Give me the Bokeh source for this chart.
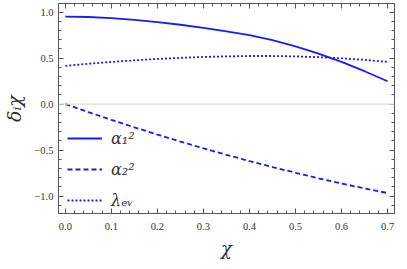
from bokeh.plotting import figure
from bokeh.models import (Range1d, LinearAxis, SingleIntervalTicker, CustomJSTickFormatter,
                          Legend, LegendItem, Span)
from bokeh.embed import file_html
from bokeh.resources import INLINE

chi = [0.0, 0.05, 0.1, 0.15, 0.2, 0.25, 0.3, 0.35, 0.4, 0.45, 0.5, 0.55, 0.6, 0.65, 0.7]
alpha1_sq = [0.95, 0.946, 0.935, 0.915, 0.89, 0.862, 0.828, 0.79, 0.748, 0.695, 0.628, 0.548, 0.458, 0.357, 0.248]
alpha2_sq = [0.0, -0.087, -0.172, -0.253, -0.332, -0.408, -0.481, -0.552, -0.62, -0.685, -0.747, -0.807, -0.864, -0.917, -0.968]
lambda_ev = [0.415, 0.438, 0.458, 0.475, 0.49, 0.502, 0.512, 0.518, 0.522, 0.522, 0.518, 0.509, 0.497, 0.48, 0.458]
labels = ["α₁²", "α₂²", "λₑᵥ"]

BLUE = "#1a1aff"
FRAME = "#555555"
TXT = "#333333"

p = figure(width=399, height=261, output_backend="svg", toolbar_location=None,
           x_range=Range1d(-0.0148, 0.715), y_range=Range1d(-1.19, 1.093),
           x_axis_type=None, y_axis_type=None,
           min_border_left=49, min_border_right=5, min_border_top=3, min_border_bottom=44)
p.outline_line_color = FRAME
p.background_fill_color = "white"
p.border_fill_color = "white"

p.add_layout(Span(location=0, dimension="width", line_color="#dcdcdc", line_width=1.2))

fmt = CustomJSTickFormatter(code="return tick < -1e-9 ? '\u2212' + Math.abs(tick).toFixed(1) : Math.abs(tick).toFixed(1);")
blank = CustomJSTickFormatter(code="return '';")

def style(ax, show):
    ax.axis_line_color = FRAME
    ax.major_tick_line_color = FRAME
    ax.minor_tick_line_color = FRAME
    ax.major_tick_in = 5
    ax.major_tick_out = 0
    ax.minor_tick_in = 3
    ax.minor_tick_out = 0
    if show:
        ax.major_label_text_font = "Liberation Serif"
        ax.major_label_text_font_size = "10.5px"
        ax.major_label_text_color = TXT
        ax.axis_label_text_font = "DejaVu Serif"
        ax.axis_label_text_font_style = "italic"
        ax.axis_label_text_color = TXT
    else:
        ax.major_label_text_font_size = "0px"
        ax.major_label_standoff = 0

xb = LinearAxis(ticker=SingleIntervalTicker(interval=0.1, num_minor_ticks=5), formatter=fmt,
                axis_label="χ", major_label_standoff=9, axis_label_standoff=5)
style(xb, True)
xb.axis_label_text_font_size = "18px"
yl = LinearAxis(ticker=SingleIntervalTicker(interval=0.5, num_minor_ticks=5), formatter=fmt,
                axis_label="δᵢχ", major_label_standoff=5, axis_label_standoff=6)
style(yl, True)
yl.axis_label_text_font_size = "19px"
xt = LinearAxis(ticker=SingleIntervalTicker(interval=0.1, num_minor_ticks=5), formatter=blank)
style(xt, False)
yr = LinearAxis(ticker=SingleIntervalTicker(interval=0.5, num_minor_ticks=5), formatter=blank)
style(yr, False)
p.add_layout(xb, "below")
p.add_layout(yl, "left")
p.add_layout(xt, "above")
p.add_layout(yr, "right")

r1 = p.line(chi, alpha1_sq, line_color=BLUE, line_width=1.8)
r2 = p.line(chi, alpha2_sq, line_color=BLUE, line_width=1.8, line_dash="5 3")
r3 = p.line(chi, lambda_ev, line_color=BLUE, line_width=1.8, line_dash="2 2")

legend = Legend(items=[LegendItem(label=labels[0], renderers=[r1]),
                       LegendItem(label=labels[1], renderers=[r2]),
                       LegendItem(label=labels[2], renderers=[r3])],
                location=(9, 3), orientation="vertical",
                glyph_width=35, glyph_height=20, label_height=20, spacing=11,
                label_standoff=9, padding=0, margin=0,
                border_line_color=None, background_fill_alpha=0,
                label_text_font="DejaVu Serif", label_text_font_style="italic",
                label_text_font_size="16px", label_text_color=TXT)
p.add_layout(legend)

open("out.html", "w").write(file_html(p, INLINE))
